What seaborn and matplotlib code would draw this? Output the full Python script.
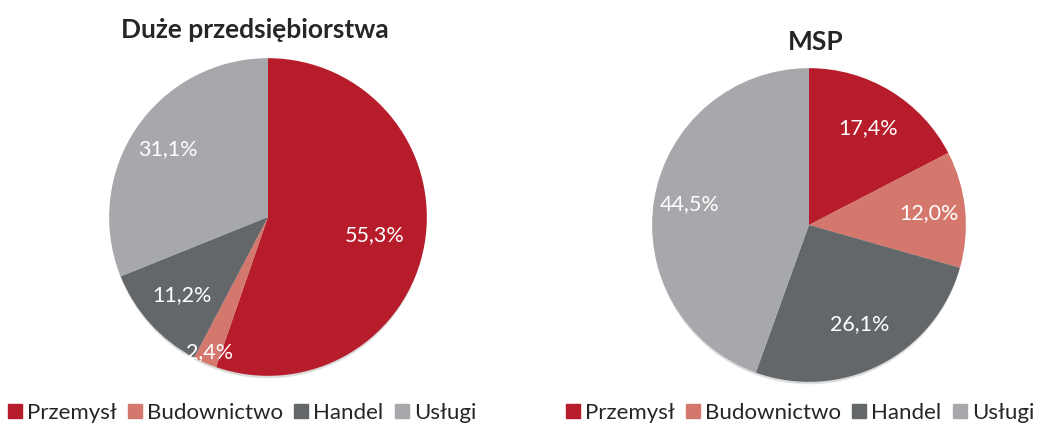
import numpy as np
import matplotlib
matplotlib.use("Agg")
import matplotlib.pyplot as plt
import matplotlib.patches as mpatches
import seaborn as sns

# =============================================================================
# DANE
# =============================================================================
kategorie = ["Przemysł", "Budownictwo", "Handel", "Usługi"]
duze = [55.3, 2.4, 11.2, 31.1]
msp = [17.4, 12.0, 26.1, 44.5]
tytuly = ["Duże przedsiębiorstwa", "MSP"]

kolory = ["#B71C2B", "#D4786E", "#63676A", "#A6A8AB"]

sns.set_theme(style="white")
plt.rcParams["font.family"] = ["Lato", "DejaVu Sans"]

W, H = 1037, 426
fig = plt.figure(figsize=(W / 100, H / 100), dpi=100)


def px_axes(cx, cy, r):
    return fig.add_axes([(cx - r) / W, (H - cy - r) / H, 2 * r / W, 2 * r / H])


def rysuj_pie(ax, wartosci, odleglosci):
    # delikatny cien pod kolem
    for i, a in enumerate([0.05, 0.07, 0.10]):
        ax.add_patch(mpatches.Circle((0, -0.012 - 0.006 * i), 1.0 - 0.004 * i,
                                     color="#555555", alpha=a, lw=0, zorder=0))
    wedges, _, autot = ax.pie(
        wartosci,
        colors=kolory,
        startangle=90,
        counterclock=False,
        radius=1.0,
        autopct=lambda p: f"{p:.1f}%".replace(".", ","),
        pctdistance=0.7,
        textprops=dict(color="white", fontsize=15.5),
        wedgeprops=dict(linewidth=0, zorder=2),
    )
    for t, d in zip(autot, odleglosci):
        x, y = t.get_position()
        t.set_position((x / 0.7 * d, y / 0.7 * d))
        t.set_zorder(3)
    ax.set_xlim(-1.02, 1.02)
    ax.set_ylim(-1.02, 1.02)
    ax.set_aspect("equal")
    ax.axis("off")


ax1 = px_axes(268, 217, 162)
rysuj_pie(ax1, duze, [0.68, 0.93, 0.73, 0.76])

ax2 = px_axes(809, 225, 160)
rysuj_pie(ax2, msp, [0.72, 0.77, 0.71, 0.77])

fig.text(255 / W, 1 - 30 / H, tytuly[0], ha="center", va="center",
         fontsize=19, fontweight="bold")
fig.text(816 / W, 1 - 42 / H, tytuly[1], ha="center", va="center",
         fontsize=19, fontweight="bold")

uchwyty = [mpatches.Patch(color=c, label=k) for c, k in zip(kolory, kategorie)]
for cx in [242, 800]:
    fig.legend(handles=uchwyty, loc="center", bbox_to_anchor=(cx / W, 1 - 413 / H),
               ncol=4, frameon=False, fontsize=16, handlelength=0.63,
               handleheight=0.63, handletextpad=0.23, columnspacing=0.5,
               borderaxespad=0, borderpad=0)

fig.savefig("out.png", dpi=100)
